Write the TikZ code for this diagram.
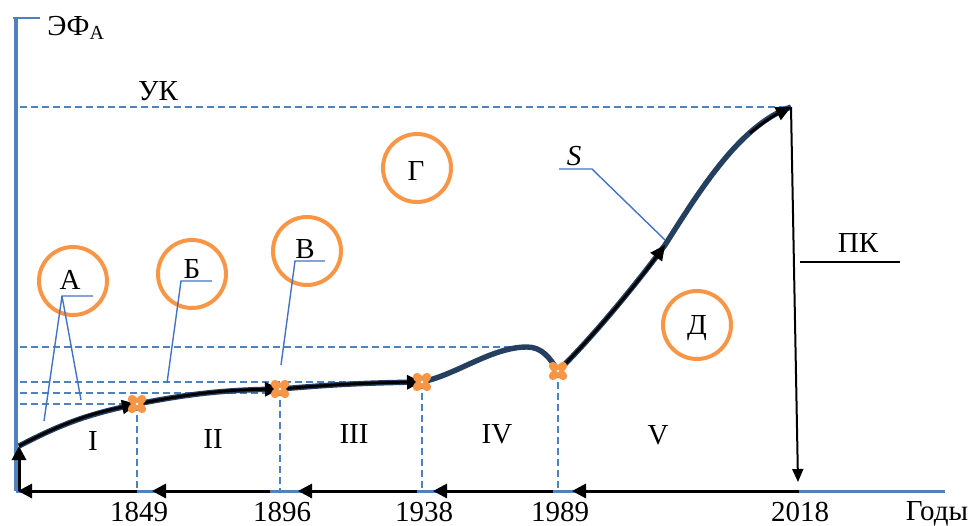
\documentclass[tikz,border=0pt]{standalone}
\usepackage{fontspec}
\setmainfont{Liberation Serif}
\usetikzlibrary{arrows.meta}

\definecolor{axisblue}{RGB}{79,129,189}
\definecolor{leadblue}{RGB}{68,114,196}
\definecolor{curvenavy}{RGB}{36,63,96}
\definecolor{markorange}{RGB}{247,150,70}

\tikzset{
  axisline/.style={axisblue, line width=2pt},
  guide/.style={axisblue, line width=0.8pt, dash pattern=on 3.5pt off 2pt},
  lead/.style={leadblue, line width=0.7pt},
  blackarrow/.style={black, line width=1.5pt, -{Triangle[length=7pt,width=7pt]}},
  curvearrow/.style={black, line width=1.4pt, -{Triangle[length=7.5pt,width=7pt]}},
  scurve/.style={curvenavy, line width=2.7pt},
  zone/.style={circle, draw=markorange, line width=2pt, minimum size=34pt, inner sep=0pt},
  lbl/.style={anchor=base, inner sep=0pt, font=\fontsize{14.5}{17}\selectfont},
  crossmark/.style={markorange, line width=4.2pt, line cap=round},
}

\begin{document}
\begin{tikzpicture}[x=0.5pt, y=-0.5pt]
\useasboundingbox (0,0) rectangle (973,525);

% key points
\coordinate (y0) at (16,491);
\coordinate (O)  at (19,446);
\coordinate (P1) at (137,404);
\coordinate (P2) at (280,389);
\coordinate (P3) at (422,382);
\coordinate (Q)  at (527,347);
\coordinate (P4) at (558,371);
\coordinate (M)  at (665,245);
\coordinate (T)  at (791,107);
\coordinate (E)  at (798,482);
\foreach \p/\n in {P1/a1849, P2/a1896, P3/a1938, P4/a1989, E/a2018}
  \coordinate (\n) at (\p |- y0);

% axes
\draw[axisline] (y0) -- (16,18);
\draw[axisblue, line width=1pt] (13,18) -- (40,18);
\draw[axisblue, line width=1.5pt] (y0) -- (945,491);

% guide lines
\foreach \p in {P1,P3,Q,T}
  \draw[guide] ([xshift=2pt]y0 |- \p) -- (\p);
\draw[guide] (20,393) -- (268,393);
\foreach \p in {P1,P2,P3,P4}
  \draw[guide] (\p) -- (\p |- y0);

% S curve
\draw[scurve] (O) to[bend left=8] (P1) to[bend left=5] (P2) to[bend left=2] (P3)
  .. controls (458,374) and (492,347) .. (Q)
  .. controls (542,347) and (550,358) .. (P4)
  .. controls (592,338) and (638,282) .. (M)
  .. controls (700,190) and (740,125) .. (T);
\draw[curvearrow] (O) to[bend left=8] (P1);
\draw[curvearrow] (P1) to[bend left=5] (P2);
\draw[curvearrow] (P2) to[bend left=2] (P3);
\draw[curvearrow] (P4) .. controls (592,338) and (638,282) .. (M);
\draw[curvearrow] (750,133) to[bend left=6] (T);

% crosses
\foreach \p in {P1,P2,P3,P4} {
  \draw[crossmark] ([shift={(-5,-5)}]\p) -- ([shift={(5,5)}]\p);
  \draw[crossmark] ([shift={(-5,5)}]\p) -- ([shift={(5,-5)}]\p);
  \fill[white] (\p) circle (0.7pt);
}

% arrows on the axes
\draw[black, line width=1pt, -{Triangle[length=6.5pt,width=5.5pt]}] (T) -- (E);
\draw[blackarrow] (O |- y0) -- (O);
\foreach \a/\b/\s/\e in {a2018/a1989/0.5/7, a1989/a1938/-2.5/5.5,
                         a1938/a1896/-2.5/9, a1896/a1849/-5/7.5, a1849/y0/0/1}
  \draw[blackarrow] ([xshift=\s pt]\a) -- ([xshift=\e pt]\b);

% axis labels
\node[lbl, anchor=base west] (efa) at (47,35)
  {ЭФ\raisebox{-0.35ex}{\fontsize{10}{12}\selectfont А}};
\node[lbl] (uk) at (158,100) {УК};
\node[lbl] (godi) at (937,520) {Годы};
\foreach \p/\t in {a1849/1849, a1896/1896, a1938/1938, a1989/1989, a2018/2018}
  \node[lbl] at ([shift={(2,30)}]\p) {\t};

% periods
\foreach \x/\y/\t in {93/450/I, 213/448/II, 354/443/III, 497/443/IV, 658/444/V}
  \node[lbl] at (\x,\y) {\t};

% zones
\node[zone] (cA) at (73,281) {};
\node[zone] (cB) at (192,274) {};
\node[zone] (cV) at (307,251) {};
\node[zone] (cG) at (417,168) {};
\node[zone] (cD) at (697,325) {};
\node[lbl] (lA) at (70,289) {А};
\node[lbl] (lB) at (192,278) {Б};
\node[lbl] (lV) at (305,258) {В};
\node[lbl] (lG) at (416,180) {Г};
\node[lbl] (lD) at (697,334) {Д};
\node[lbl] (lS) at (574,165) {\itshape S};
\node[lbl] (lPK) at (858,252) {ПК};

% callouts
\coordinate (kA) at (62,296);
\coordinate (kB) at (181,281);
\coordinate (kV) at (295,261);
\coordinate (kS) at (592,169);
\coordinate (tA1) at (44,421);
\coordinate (tA2) at (81,400);
\coordinate (tB) at (167,383);
\coordinate (tV) at (281,365);
\coordinate (tS) at (665,240);
\draw[lead] ([xshift=15.5pt]kA) -- (kA) -- (tA1);
\draw[lead] (kA) -- (tA2);
\draw[lead] ([xshift=15.5pt]kB) -- (kB) -- (tB);
\draw[lead] ([xshift=15pt]kV) -- (kV) -- (tV);
\draw[lead] (559,169) -- (kS) -- (tS);
\draw[black, line width=1pt] (800,262) -- (900,262);

\end{tikzpicture}
\end{document}
